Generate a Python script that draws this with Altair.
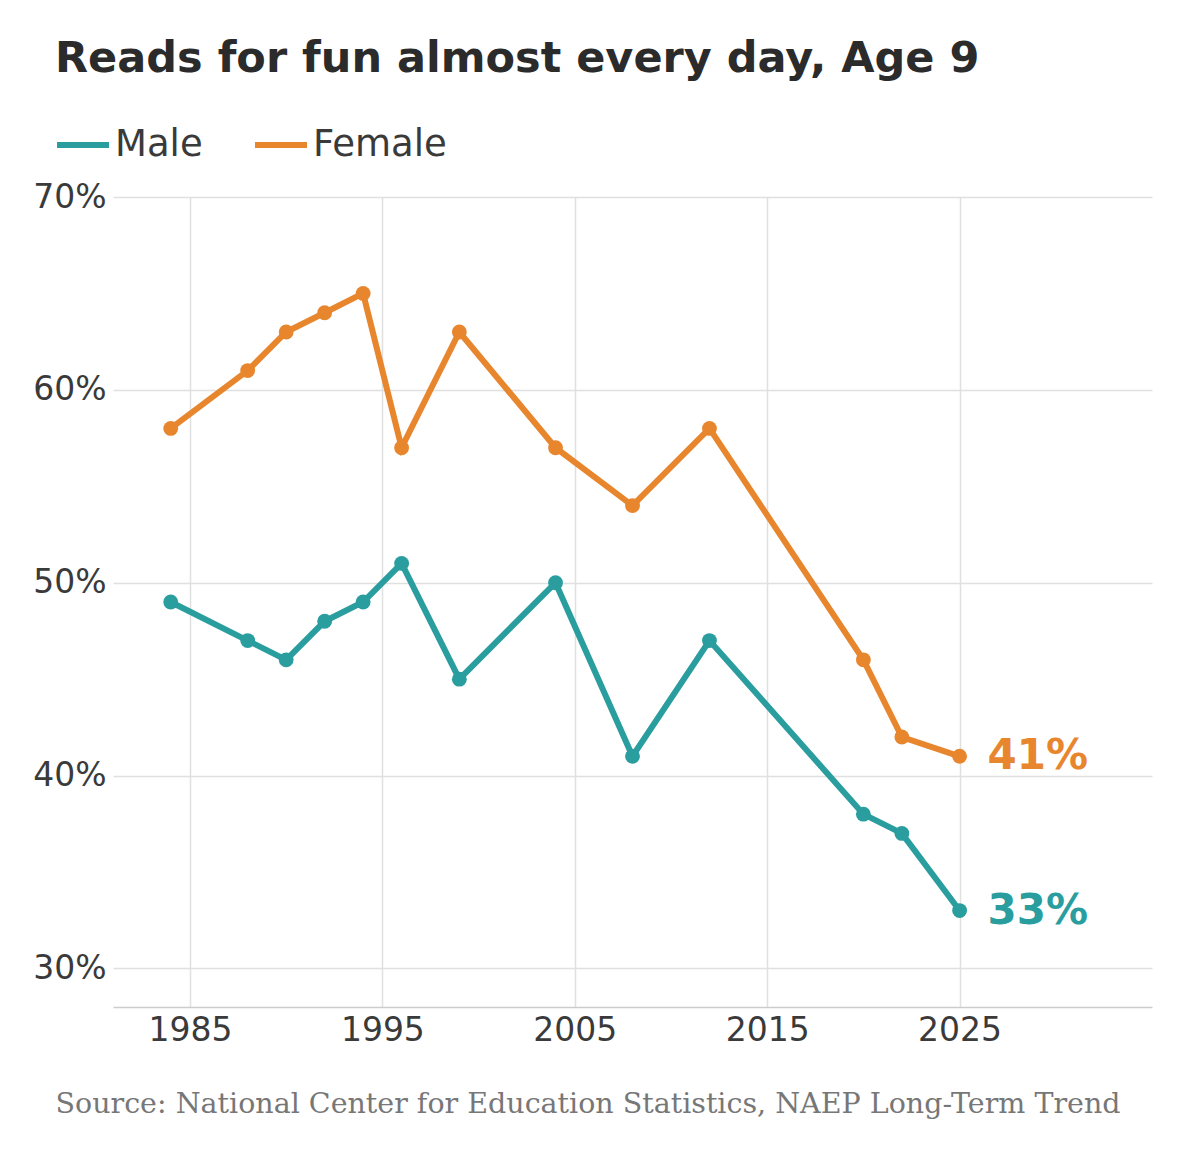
import altair as alt
import pandas as pd

years = [1984, 1988, 1990, 1992, 1994, 1996, 1999, 2004, 2008, 2012, 2020, 2022, 2025]
male = [49, 47, 46, 48, 49, 51, 45, 50, 41, 47, 38, 37, 33]
female = [58, 61, 63, 64, 65, 57, 63, 57, 54, 58, 46, 42, 41]
series = ["Male", "Female"]
colors = ["#2a9d9f", "#e8862e"]
y_ticks = [30, 40, 50, 60, 70]
x_ticks = [1985, 1995, 2005, 2015, 2025]

rows = []
for s, vals in zip(series, [male, female]):
    for yr, v in zip(years, vals):
        rows.append({"year": yr, "value": v, "series": s})
df = pd.DataFrame(rows)
last = df[df["year"] == years[-1]].copy()
last["label"] = last["value"].astype(int).astype(str) + "%"

color = alt.Color(
    "series:N",
    scale=alt.Scale(domain=series, range=colors),
    legend=alt.Legend(
        title=None, orient="none", direction="horizontal",
        legendX=-59, legendY=-81, padding=0,
        symbolType="stroke", symbolSize=2704, symbolStrokeWidth=6,
        labelFontSize=37, labelFont="DejaVu Sans", labelColor="#3a3a3a",
        labelOffset=3, columnPadding=40,
    ),
)

x = alt.X(
    "year:Q",
    scale=alt.Scale(domain=[1981, 2035], nice=False, zero=False),
    axis=alt.Axis(
        values=x_ticks, format="d", labelFontSize=33, labelFont="DejaVu Sans",
        labelColor="#3a3a3a", labelPadding=7, ticks=False,
        domainColor="#cccccc", domainWidth=1.5,
        gridColor="#e0e0e0", gridWidth=1.5,
        title="Source: National Center for Education Statistics, NAEP Long-Term Trend",
        titleFont="DejaVu Serif", titleFontSize=28.5, titleFontWeight="normal",
        titleColor="#777777", titleX=-58, titleY=105, titleAlign="left",
        titleBaseline="alphabetic", titleAnchor="start",
    ),
)
y = alt.Y(
    "value:Q",
    scale=alt.Scale(domain=[28, 70], nice=False, zero=False),
    axis=alt.Axis(
        values=y_ticks, labelExpr="datum.value + '%'", labelFontSize=33,
        labelFont="DejaVu Sans", labelColor="#3a3a3a", labelPadding=7,
        ticks=False, domain=False, gridColor="#e0e0e0", gridWidth=1.5, title=None,
    ),
)

base = alt.Chart(df)
lines = base.mark_line(strokeWidth=6).encode(x=x, y=y, color=color)
points = base.mark_point(filled=True, size=220, opacity=1).encode(x=x, y=y, color=color)
labels = alt.Chart(last).mark_text(
    align="left", baseline="middle", dx=28, fontSize=42, fontWeight="bold",
    font="DejaVu Sans",
).encode(x=x, y=y, text="label:N", color=alt.Color("series:N", scale=alt.Scale(domain=series, range=colors), legend=None))

chart = alt.layer(lines, points, labels).properties(
    width=1039, height=810,
    autosize=alt.AutoSizeParams(type="none"),
    padding={"left": 105, "top": 189, "right": 40, "bottom": 140},
    title=alt.TitleParams(
        "Reads for fun almost every day, Age 9", anchor="start", frame="group",
        dx=-58, fontSize=43, font="DejaVu Sans", fontWeight="bold",
        color="#2b2b2b", offset=35,
    ),
).configure(background="white").configure_view(strokeWidth=0, stroke="transparent")

chart.save("out.html", embed_options={"renderer": "svg", "actions": False})
